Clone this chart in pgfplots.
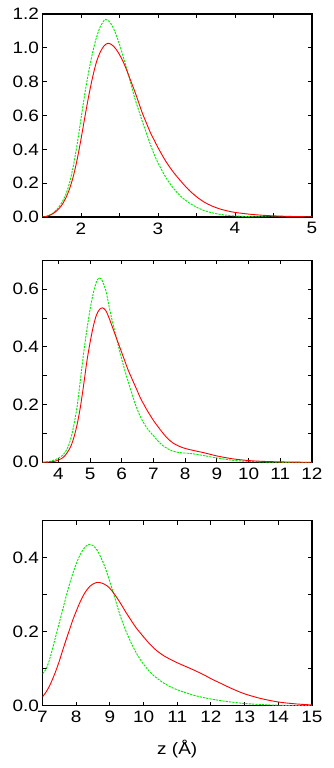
\documentclass[border=0pt]{standalone}
\usepackage{pgfplots}
\pgfplotsset{compat=1.18}
\usepackage{fontspec}
\setmainfont{Liberation Sans}[FakeStretch=1.15]

\definecolor{gpred}{RGB}{255,0,0}
\definecolor{gpgreen}{RGB}{0,235,0}

\pgfplotsset{
  panel/.style={
    scale only axis,
    width=269.5pt,
    anchor=south west,
    axis line style={line width=1.1pt},
    tick style={black, line width=0.9pt},
    major tick length=4pt,
    minor tick length=4pt,
    tick align=inside,
    ticklabel style={font=\fontsize{16.5}{18}\selectfont},
    xticklabel style={yshift=-2pt},
    label style={font=\fontsize{16.5}{18}\selectfont},
    /pgf/number format/assume math mode=true,
    yticklabel style={/pgf/number format/fixed,/pgf/number format/fixed zerofill,/pgf/number format/precision=1},
    scaled ticks=false,
  },
  redline/.style={color=gpred, line width=0.9pt, smooth, no marks},
  greenline/.style={color=gpgreen, line width=0.9pt, smooth, no marks, dash pattern=on 2.2pt off 1.1pt},
}

\begin{document}
\begin{tikzpicture}
\useasboundingbox (0,0) rectangle (333pt,768pt);

% top panel
\begin{axis}[panel, at={(42.5pt,551pt)}, height=203pt,
  xmin=1.5, xmax=5, ymin=0, ymax=1.2,
  xtick={2,3,4,5}, minor xtick={2.5,3.5,4.5},
  ytick={0,0.2,0.4,0.6,0.8,1.0,1.2}]
\addplot[greenline] coordinates {
(1.50,0)(1.55,0.004)(1.60,0.013)(1.65,0.028)(1.70,0.052)(1.75,0.085)(1.80,0.13)
(1.85,0.20)(1.90,0.30)(1.95,0.43)(2.00,0.58)(2.05,0.73)(2.10,0.86)(2.15,0.97)
(2.20,1.06)(2.25,1.125)(2.30,1.162)(2.32,1.168)(2.35,1.163)(2.40,1.135)(2.45,1.085)
(2.50,1.02)(2.55,0.945)(2.60,0.865)(2.65,0.785)(2.70,0.70)(2.75,0.63)(2.80,0.56)
(2.85,0.495)(2.90,0.43)(2.95,0.37)(3.00,0.32)(3.10,0.235)(3.20,0.17)(3.30,0.12)
(3.40,0.085)(3.50,0.058)(3.60,0.038)(3.70,0.025)(3.80,0.016)(3.90,0.010)(4.00,0.006)
(4.20,0.002)(4.50,0)(5.00,0)
};
\addplot[redline] coordinates {
(1.50,0)(1.55,0.003)(1.60,0.011)(1.65,0.024)(1.70,0.043)(1.75,0.07)(1.80,0.11)
(1.85,0.165)(1.90,0.24)(1.95,0.34)(2.00,0.46)(2.05,0.59)(2.10,0.715)(2.15,0.825)
(2.20,0.915)(2.25,0.975)(2.30,1.012)(2.35,1.027)(2.40,1.018)(2.45,0.995)(2.50,0.96)
(2.55,0.915)(2.60,0.86)(2.65,0.80)(2.70,0.74)(2.75,0.675)(2.80,0.61)(2.85,0.555)
(2.90,0.50)(2.95,0.455)(3.00,0.41)(3.10,0.33)(3.20,0.265)(3.30,0.21)(3.40,0.16)
(3.50,0.12)(3.60,0.088)(3.70,0.065)(3.80,0.048)(3.90,0.036)(4.00,0.027)(4.20,0.016)
(4.40,0.009)(4.60,0.005)(4.80,0.0025)(5.00,0.001)
};
\end{axis}

% middle panel
\begin{axis}[panel, at={(42.5pt,305.7pt)}, height=202pt,
  xmin=3.5, xmax=12, ymin=0, ymax=0.7,
  xtick={4,5,...,12},
  ytick={0,0.2,0.4,0.6}, minor ytick={0.1,0.3,0.5}]
\addplot[greenline] coordinates {
(3.50,0)(3.60,0.001)(3.70,0.002)(3.80,0.005)(3.90,0.009)(4.00,0.014)(4.10,0.021)
(4.20,0.033)(4.30,0.052)(4.40,0.085)(4.50,0.135)(4.60,0.20)(4.70,0.29)(4.80,0.38)
(4.90,0.46)(5.00,0.53)(5.10,0.585)(5.20,0.625)(5.28,0.639)(5.35,0.636)(5.40,0.625)
(5.50,0.595)(5.60,0.54)(5.70,0.49)(5.80,0.445)(5.90,0.40)(6.00,0.357)(6.10,0.317)
(6.20,0.28)(6.30,0.245)(6.40,0.21)(6.50,0.18)(6.60,0.155)(6.70,0.135)(6.80,0.118)
(6.90,0.104)(7.00,0.092)(7.20,0.067)(7.40,0.05)(7.60,0.039)(7.80,0.034)(8.00,0.032)
(8.20,0.030)(8.50,0.025)(9.00,0.015)(9.50,0.007)(10.0,0.003)(10.5,0.001)(11.0,0)(12.0,0)
};
\addplot[redline] coordinates {
(3.50,0)(3.70,0.001)(3.80,0.002)(3.90,0.004)(4.00,0.008)(4.10,0.013)(4.20,0.022)
(4.30,0.037)(4.40,0.057)(4.50,0.09)(4.60,0.135)(4.70,0.195)(4.80,0.27)(4.90,0.35)
(5.00,0.415)(5.10,0.47)(5.20,0.51)(5.30,0.53)(5.40,0.535)(5.50,0.525)(5.60,0.50)
(5.70,0.47)(5.80,0.44)(5.90,0.41)(6.00,0.38)(6.10,0.35)(6.20,0.32)(6.30,0.295)
(6.40,0.27)(6.50,0.245)(6.60,0.22)(6.70,0.20)(6.80,0.18)(7.00,0.145)(7.20,0.115)
(7.40,0.088)(7.60,0.068)(7.80,0.056)(8.00,0.048)(8.30,0.040)(8.60,0.033)(9.00,0.022)
(9.50,0.012)(10.0,0.006)(10.5,0.003)(11.0,0.0015)(11.5,0.0005)(12.0,0)
};
\end{axis}

% bottom panel
\begin{axis}[panel, at={(42.5pt,62.3pt)}, height=185pt,
  xmin=7, xmax=15, ymin=0, ymax=0.5,
  xtick={7,8,...,15},
  ytick={0,0.2,0.4}, minor ytick={0.1,0.3},
  xlabel={z (Å)},
  xlabel style={at={(axis description cs:0.5,0)}, anchor=base, yshift=-49pt}]
\addplot[greenline] coordinates {
(7.0,0.086)(7.1,0.098)(7.2,0.122)(7.3,0.155)(7.4,0.19)(7.5,0.225)(7.6,0.26)
(7.7,0.295)(7.8,0.328)(7.9,0.357)(8.0,0.383)(8.1,0.405)(8.2,0.421)(8.3,0.432)
(8.4,0.436)(8.5,0.433)(8.6,0.423)(8.7,0.407)(8.8,0.387)(8.9,0.363)(9.0,0.335)
(9.1,0.306)(9.2,0.275)(9.3,0.245)(9.4,0.22)(9.5,0.197)(9.6,0.176)(9.7,0.157)
(9.8,0.14)(9.9,0.125)(10.0,0.112)(10.2,0.09)(10.4,0.074)(10.6,0.061)(10.8,0.051)
(11.0,0.043)(11.5,0.028)(12.0,0.018)(12.5,0.011)(13.0,0.006)(13.5,0.003)(14.0,0.0012)
(14.5,0.0004)(15.0,0)
};
\addplot[redline] coordinates {
(7.0,0.024)(7.1,0.036)(7.2,0.052)(7.3,0.072)(7.4,0.095)(7.5,0.121)(7.6,0.150)
(7.7,0.178)(7.8,0.205)(7.9,0.232)(8.0,0.255)(8.1,0.277)(8.2,0.296)(8.3,0.311)
(8.4,0.322)(8.5,0.329)(8.6,0.333)(8.7,0.333)(8.8,0.330)(8.9,0.325)(9.0,0.317)
(9.1,0.306)(9.2,0.293)(9.3,0.279)(9.4,0.264)(9.5,0.249)(9.6,0.235)(9.7,0.221)
(9.8,0.208)(9.9,0.197)(10.0,0.186)(10.2,0.165)(10.4,0.148)(10.6,0.135)(10.8,0.125)
(11.0,0.116)(11.2,0.108)(11.5,0.096)(11.8,0.083)(12.0,0.073)(12.3,0.06)(12.6,0.047)
(13.0,0.032)(13.5,0.019)(14.0,0.010)(14.5,0.005)(15.0,0.002)
};
\end{axis}
\end{tikzpicture}
\end{document}
